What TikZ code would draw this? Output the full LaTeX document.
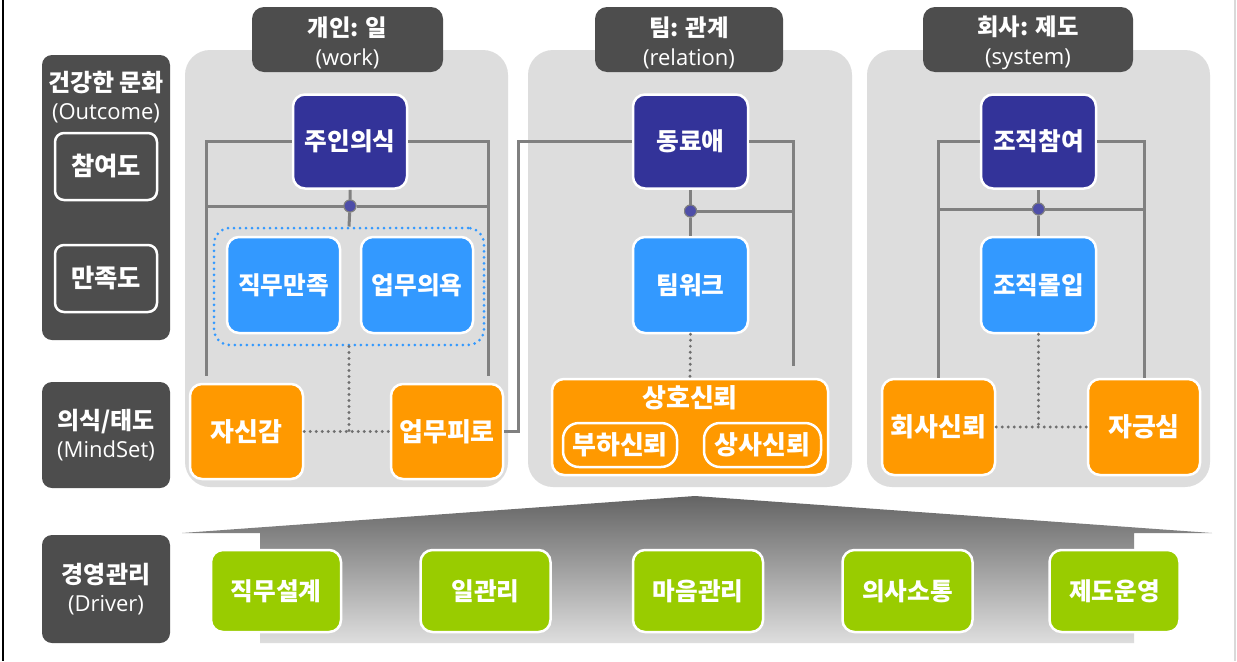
\documentclass[tikz,border=0pt]{standalone}
\usepackage{fontspec}
\setmainfont{Noto Sans CJK KR}
\newfontfamily\lat{Open Sans}
\usetikzlibrary{calc}
\definecolor{navy}{HTML}{333399}
\definecolor{skyb}{HTML}{3399FF}
\definecolor{orng}{HTML}{FF9900}
\definecolor{grn}{HTML}{99CC00}
\definecolor{darkbox}{HTML}{4D4D4D}
\definecolor{panelgray}{HTML}{DDDDDD}
\definecolor{connc}{HTML}{808080}
\definecolor{dotc}{HTML}{6E6E6E}
\definecolor{junc}{HTML}{4E4EA8}
\newdimen\px \px=0.75pt
\tikzset{
  box/.style={draw=white, line width=2.5\px, rounded corners=12\px, text=white,
    font=\bfseries\fontsize{18.5}{22}\selectfont, inner sep=0pt,
    minimum width=114\px, minimum height=94\px, align=center},
  navybox/.style={box, fill=navy},
  bluebox/.style={box, fill=skyb},
  orangebox/.style={box, fill=orng, font=\bfseries\fontsize{19.5}{22}\selectfont},
  greenbox/.style={box, fill=grn, minimum width=130\px, minimum height=82\px},
  panel/.style={fill=panelgray, rounded corners=25\px, inner sep=0pt, minimum height=437\px},
  tab/.style={fill=darkbox, rounded corners=12\px, inner sep=0pt, text=white,
    minimum height=65\px, align=center, font=\fontsize{17.5}{22}\selectfont},
  sidebox/.style={fill=darkbox, rounded corners=10\px, inner sep=0pt, text=white,
    minimum width=128\px, align=center, font=\fontsize{18}{21}\selectfont},
  innerside/.style={draw=white, line width=2.5\px, fill=darkbox, rounded corners=9\px,
    inner sep=0pt, text=white, minimum width=102\px, minimum height=67\px,
    font=\bfseries\fontsize{19}{22}\selectfont},
  conn/.style={draw=connc, line width=3\px},
  dotline/.style={draw=dotc, line width=3.2\px, dash pattern=on 0pt off 6\px, line cap=round},
  grpline/.style={draw=skyb, line width=3\px, dash pattern=on 0pt off 6\px, line cap=round, rounded corners=16\px},
  junction/.style={circle, fill=junc, draw=connc, line width=1\px, minimum size=12\px, inner sep=0pt},
  txt/.style={text=white, inner sep=0pt, align=center},
  latin/.style={}
}
\newcommand{\latpart}[1]{{\lat\fontsize{16.5}{21}\selectfont #1}}
\begin{document}
\begin{tikzpicture}[x=0.75pt,y=-0.75pt]
\useasboundingbox (0,0) rectangle (1237,661);
\fill[white] (0,0) rectangle (1237,661);
\draw[black, line width=1.5\px] (3,0) -- (3,661);
\draw[black!15, line width=1.5\px] (1235,0) -- (1235,661);

% side labels
\node[sidebox, minimum height=285\px] (sideA) at (106,197.5) {};
\node[txt, font=\fontsize{18}{21}\selectfont] (sideAt) at (106,97) {\bfseries 건강한 문화\\\latpart{(Outcome)}};
\node[innerside] (part) at (106,166.5) {참여도};
\node[innerside] (sat) at (106,278.5) {만족도};
\node[sidebox, minimum height=106\px] (sideB) at (106,435) {\bfseries 의식/태도\\\latpart{(MindSet)}};
\node[sidebox, minimum height=108\px] (sideC) at (106,589) {\bfseries 경영관리\\\latpart{(Driver)}};

% panels
\node[panel, minimum width=323\px] (P1) at (346.5,268.5) {};
\node[panel, minimum width=324\px] (P2) at (690,268.5) {};
\node[panel, minimum width=343\px] (P3) at (1038.5,268.5) {};

% tabs
\node[tab, minimum width=191\px] (T1) at (347.5,39.5) {};
\node[tab, minimum width=188\px] (T2) at (689,39.5) {};
\node[tab, minimum width=210\px] (T3) at (1028,39.5) {};
\node[txt, font=\fontsize{17.5}{22}\selectfont] (T1t) at (347.5,43) {\bfseries 개인: 일\\\latpart{(work)}};
\node[txt, font=\fontsize{17.5}{22}\selectfont] (T2t) at (689,43) {\bfseries 팀: 관계\\\latpart{(relation)}};
\node[txt, font=\fontsize{17.5}{22}\selectfont] (T3t) at (1028,43) {\bfseries 회사: 제도\\\latpart{(system)}};

% bottom gradient
\shade[top color={rgb,255:red,100;green,100;blue,100}, bottom color={rgb,255:red,222;green,222;blue,222}]
  (182,533) -- (695,496) -- (1212,533) -- (1134,533) -- (1134,643) -- (260,643) -- (260,533) -- cycle;

% panel 1 boxes
\node[navybox] (jy) at (350,141.5) {주인의식};
\node[grpline, minimum width=270\px, minimum height=117\px, inner sep=0pt] (grp) at (349,286.5) {};
\node[bluebox, minimum width=113\px, minimum height=96\px] (jm1) at (283.5,285) {직무만족};
\node[bluebox, minimum width=112\px, minimum height=96\px] (uy) at (417,285) {업무의욕};
\node[orangebox, minimum width=113\px, minimum height=95\px] (jsg) at (246.5,431.5) {자신감};
\node[orangebox, minimum width=112\px, minimum height=95\px] (ump) at (447,431.5) {업무피로};

% panel 2 boxes
\node[navybox, minimum width=115\px] (dr) at (690.5,141.5) {동료애};
\node[bluebox, minimum width=115\px, minimum height=96\px] (tw) at (690.5,285) {팀워크};
\node[orangebox, minimum width=276\px, minimum height=96\px] (sh) at (690,427) {};
\node[txt, font=\bfseries\fontsize{19.5}{22}\selectfont] (shT) at (690,398) {상호신뢰};
\node[orangebox, minimum width=114\px, minimum height=44\px, rounded corners=16\px] (bh) at (620,445) {부하신뢰};
\node[orangebox, minimum width=117\px, minimum height=44\px, rounded corners=16\px] (ss) at (762.5,445) {상사신뢰};

% panel 3 boxes
\node[navybox, minimum width=115\px] (jc) at (1038.5,141.5) {조직참여};
\node[bluebox, minimum width=115\px, minimum height=96\px] (jmo) at (1038.5,285) {조직몰입};
\node[orangebox, minimum width=113\px, minimum height=96\px] (hs) at (938.5,427) {회사신뢰};
\node[orangebox, minimum width=112\px, minimum height=96\px] (jgs) at (1144,427) {자긍심};

% green boxes
\node[greenbox] (g1) at (276,591) {직무설계};
\node[greenbox] (g2) at (485.5,591) {일관리};
\node[greenbox] (g3) at (698,591) {마음관리};
\node[greenbox] (g4) at (907.5,591) {의사소통};
\node[greenbox] (g5) at (1114.5,591) {제도운영};

% coordinates
\coordinate (p1L) at (206,376);
\coordinate (p1R) at (488,376);
\coordinate (p1HL) at (206,206);
\coordinate (p1HR) at (488,206);
\coordinate (p2R) at (793,366);
\coordinate (p2HR) at (793,211);
\coordinate (p3HL) at (938.5,209);
\coordinate (p3HR) at (1144,209);
\coordinate (lnk) at (518,431.5);

% junctions
\node[junction] (d1) at (350,206) {};
\node[junction] (d2) at (690.5,211) {};
\node[junction] (d3) at (1038.5,209) {};

% panel 1 lines
\draw[conn] (jy.west) -| (p1L);
\draw[conn] (jy.east) -| (p1R);
\draw[conn] (p1HL) -- (d1) -- (p1HR);
\draw[conn] (jy.south) -- (d1) -- (grp.north);
\draw[dotline] (jsg.east) -- (ump.west);
\draw[dotline] (grp.south) -- (grp.south |- jsg.east);
\draw[conn] (ump.east) -- (lnk) |- (dr.west);

% panel 2 lines
\draw[conn] (dr.east) -| (p2R);
\draw[conn] (d2) -- (p2HR);
\draw[conn] (dr.south) -- (d2) -- (tw.north);
\draw[dotline] (tw.south) -- (sh.north);

% panel 3 lines
\draw[conn] (jc.west) -| (hs.north);
\draw[conn] (jc.east) -| (jgs.north);
\draw[conn] (p3HL) -- (d3) -- (p3HR);
\draw[conn] (jc.south) -- (d3) -- (jmo.north);
\draw[dotline] (hs.east) -- (jgs.west);
\draw[dotline] (jmo.south) -- (jmo.south |- hs.east);

% junction dots on top
\node[junction] at (d1) {};
\node[junction] at (d2) {};
\node[junction] at (d3) {};
\end{tikzpicture}
\end{document}
